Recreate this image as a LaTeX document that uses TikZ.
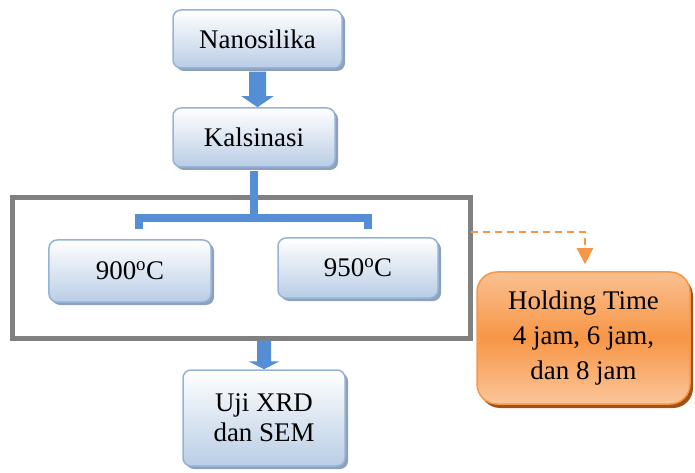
\documentclass[tikz,border=0pt]{standalone}
\usepackage{fontspec}
\setmainfont{Liberation Serif}
\usetikzlibrary{shadows,calc,arrows.meta}
\definecolor{boxborder}{RGB}{149,179,215}
\definecolor{boxbottom}{RGB}{185,205,229}
\definecolor{boxshadow}{RGB}{143,160,186}
\definecolor{arrowblue}{RGB}{85,142,213}
\definecolor{framegray}{RGB}{128,128,128}
\definecolor{orangemain}{RGB}{247,150,70}
\definecolor{orangelight}{RGB}{250,192,144}
\definecolor{orangeshadow}{RGB}{160,82,24}
\tikzset{
  bluebox/.style={draw=boxborder, line width=1.5bp, rounded corners=8bp,
    top color=white, bottom color=boxbottom, align=center,
    font=\fontsize{27}{30}\selectfont, inner sep=0pt,
    drop shadow={shadow xshift=3bp, shadow yshift=-3bp, fill=boxshadow, opacity=1}},
  orangebox/.style={draw=orangemain, line width=1.5bp, rounded corners=20bp,
    top color=orangelight, bottom color=orangelight!90!white, middle color=orangemain,
    align=center, font=\fontsize{27}{35}\selectfont, inner sep=0pt,
    drop shadow={shadow xshift=3bp, shadow yshift=-4bp, fill=orangeshadow, opacity=1}},
  framebox/.style={draw=framegray, line width=5bp, inner sep=0pt},
  blockarrow/.style={fill=arrowblue},
  bar/.style={draw=arrowblue, line width=8bp},
  dashconn/.style={draw=orangemain, line width=2.5bp, dash pattern=on 7bp off 5bp,
    -{Triangle[width=16bp,length=16bp]}, shorten >=7bp}
}
\begin{document}
\begin{tikzpicture}[x=1bp,y=-1bp]
\useasboundingbox (0,0) rectangle (695,473);
% frame
\node[framebox, minimum width=457bp, minimum height=140bp] (frame) at (241.5,268) {};
% boxes
\node[bluebox, minimum width=169bp, minimum height=58bp] (nano) at (257.5,39) {Nanosilika};
\node[bluebox, minimum width=162bp, minimum height=59bp] (kal) at (254,137.5) {Kalsinasi};
\node[bluebox, minimum width=162bp, minimum height=62bp] (t900) at (130,271) {900\textsuperscript{o}C};
\node[bluebox, minimum width=160bp, minimum height=60bp] (t950) at (358,268) {950\textsuperscript{o}C};
\node[bluebox, minimum width=162bp, minimum height=96bp] (uji) at (264,418) {Uji XRD\\dan SEM};
\node[orangebox, minimum width=213bp, minimum height=132bp] (hold) at (583.5,338) {Holding Time\\4 jam, 6 jam,\\dan 8 jam};
% arrow nano -> kal
\coordinate (a1) at ($(nano.south)+(0,3)$);
\coordinate (a2) at (nano.south |- kal.north);
\fill[blockarrow] ($(a1)+(-8.5,0)$) -- ($(a2)+(-8.5,-11)$) -- ($(a2)+(-16,-11)$) -- (a2)
  -- ($(a2)+(16,-11)$) -- ($(a2)+(8.5,-11)$) -- ($(a1)+(8.5,0)$) -- cycle;
% bracket
\coordinate (bl) at (139,229);
\coordinate (bm) at (0,218);
\coordinate (brr) at (368,229);
\draw[bar] ($(kal.south)+(0,3)$) -- (kal.south |- bm);
\draw[bar] (bl) -- (bl |- bm) -- (brr |- bm) -- (brr);
% arrow frame -> uji
\coordinate (b1) at (uji.north |- frame.south);
\coordinate (b2) at (uji.north);
\fill[blockarrow] ($(b1)+(-7,0)$) -- ($(b2)+(-7,-8)$) -- ($(b2)+(-15.5,-8)$) -- (b2)
  -- ($(b2)+(15.5,-8)$) -- ($(b2)+(7,-8)$) -- ($(b1)+(7,0)$) -- cycle;
% dashed connector
\coordinate (dy) at (0,232);
\draw[dashconn] ($(frame.east |- dy)+(-2,0)$) -| ($(hold.north)+(1.5,0)$);
\end{tikzpicture}
\end{document}
